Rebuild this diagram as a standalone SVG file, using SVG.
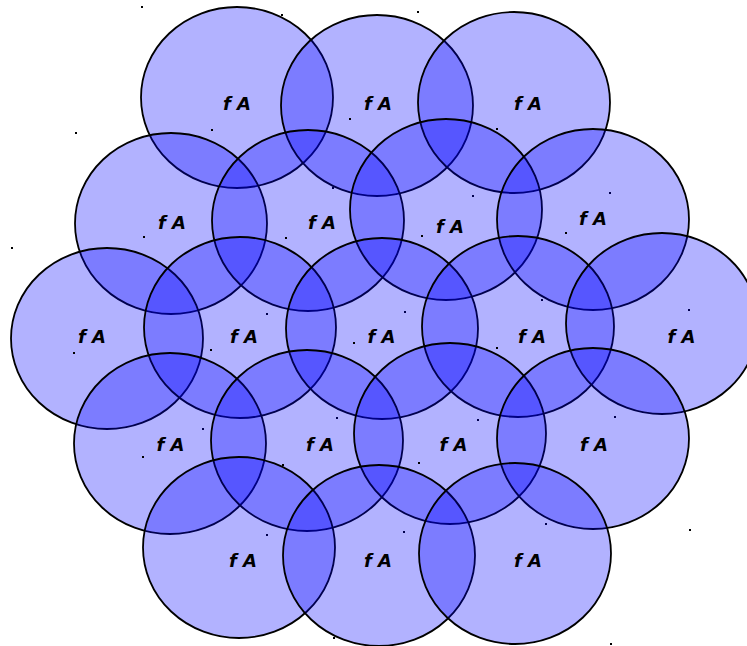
<svg xmlns="http://www.w3.org/2000/svg" width="747" height="646" viewBox="0 0 747 646">
<style>
  .c { fill: rgb(0,0,255); fill-opacity: 0.3; stroke: #000; stroke-width: 1.8; }
  .d { fill: #000; }
  .t { font-family: "DejaVu Sans", "Liberation Sans", sans-serif; font-size: 18px; font-weight: bold; font-style: italic; fill: #000; text-anchor: middle; }
</style>
<rect width="747" height="646" fill="#fff"/>
<g id="cell1"><rect class="d" x="141" y="6" width="2" height="2"/><rect class="d" x="332" y="187" width="2" height="2"/><ellipse class="c" cx="237" cy="97.5" rx="96" ry="90.5"/><text class="t" x="237" y="110">f A</text></g>
<g id="cell2"><rect class="d" x="281" y="14" width="2" height="2"/><rect class="d" x="472" y="195" width="2" height="2"/><ellipse class="c" cx="377" cy="105.5" rx="96" ry="90.5"/><text class="t" x="378" y="110">f A</text></g>
<g id="cell3"><rect class="d" x="417" y="11" width="2" height="2"/><rect class="d" x="609" y="192" width="2" height="2"/><ellipse class="c" cx="514" cy="102.5" rx="96" ry="90.5"/><text class="t" x="528" y="110">f A</text></g>
<g id="cell4"><rect class="d" x="75" y="132" width="2" height="2"/><rect class="d" x="266" y="313" width="2" height="2"/><ellipse class="c" cx="171" cy="223.5" rx="96" ry="90.5"/><text class="t" x="172" y="229">f A</text></g>
<g id="cell5"><rect class="d" x="211" y="129" width="2" height="2"/><rect class="d" x="404" y="311" width="2" height="2"/><ellipse class="c" cx="308" cy="220.5" rx="96" ry="90.5"/><text class="t" x="322" y="229">f A</text></g>
<g id="cell6"><rect class="d" x="349" y="118" width="2" height="2"/><rect class="d" x="541" y="299" width="2" height="2"/><ellipse class="c" cx="446" cy="209.5" rx="96" ry="90.5"/><text class="t" x="450" y="233">f A</text></g>
<g id="cell7"><rect class="d" x="496" y="128" width="2" height="2"/><rect class="d" x="688" y="309" width="2" height="2"/><ellipse class="c" cx="593" cy="219.5" rx="96" ry="90.5"/><text class="t" x="593" y="225">f A</text></g>
<g id="cell8"><rect class="d" x="11" y="247" width="2" height="2"/><rect class="d" x="202" y="428" width="2" height="2"/><ellipse class="c" cx="107" cy="338.5" rx="96" ry="90.5"/><text class="t" x="92" y="343">f A</text></g>
<g id="cell9"><rect class="d" x="143" y="236" width="2" height="2"/><rect class="d" x="336" y="417" width="2" height="2"/><ellipse class="c" cx="240" cy="327.5" rx="96" ry="90.5"/><text class="t" x="244" y="343">f A</text></g>
<g id="cell10"><rect class="d" x="285" y="237" width="2" height="2"/><rect class="d" x="477" y="419" width="2" height="2"/><ellipse class="c" cx="382" cy="328.5" rx="96" ry="90.5"/><text class="t" x="381.5" y="343">f A</text></g>
<g id="cell11"><rect class="d" x="421" y="235" width="2" height="2"/><rect class="d" x="614" y="416" width="2" height="2"/><ellipse class="c" cx="518" cy="326.5" rx="96" ry="90.5"/><text class="t" x="532" y="343">f A</text></g>
<g id="cell12"><rect class="d" x="565" y="232" width="2" height="2"/><ellipse class="c" cx="662" cy="323.5" rx="96" ry="90.5"/><text class="t" x="681.5" y="343">f A</text></g>
<g id="cell13"><rect class="d" x="73" y="352" width="2" height="2"/><rect class="d" x="266" y="534" width="2" height="2"/><ellipse class="c" cx="170" cy="443.5" rx="96" ry="90.5"/><text class="t" x="170.5" y="451">f A</text></g>
<g id="cell14"><rect class="d" x="210" y="349" width="2" height="2"/><rect class="d" x="403" y="531" width="2" height="2"/><ellipse class="c" cx="307" cy="440.5" rx="96" ry="90.5"/><text class="t" x="320" y="451">f A</text></g>
<g id="cell15"><rect class="d" x="353" y="342" width="2" height="2"/><rect class="d" x="545" y="523" width="2" height="2"/><ellipse class="c" cx="450" cy="433.5" rx="96" ry="90.5"/><text class="t" x="453.5" y="451">f A</text></g>
<g id="cell16"><rect class="d" x="496" y="347" width="2" height="2"/><rect class="d" x="689" y="529" width="2" height="2"/><ellipse class="c" cx="593" cy="438.5" rx="96" ry="90.5"/><text class="t" x="594" y="451">f A</text></g>
<g id="cell17"><rect class="d" x="142" y="456" width="2" height="2"/><rect class="d" x="333" y="637" width="2" height="2"/><ellipse class="c" cx="239" cy="547.5" rx="96" ry="90.5"/><text class="t" x="243" y="567">f A</text></g>
<g id="cell18"><rect class="d" x="282" y="464" width="2" height="2"/><ellipse class="c" cx="379" cy="555.5" rx="96" ry="90.5"/><text class="t" x="378" y="567">f A</text></g>
<g id="cell19"><rect class="d" x="418" y="462" width="2" height="2"/><rect class="d" x="610" y="643" width="2" height="2"/><ellipse class="c" cx="515" cy="553.5" rx="96" ry="90.5"/><text class="t" x="528" y="567">f A</text></g>
</svg>
